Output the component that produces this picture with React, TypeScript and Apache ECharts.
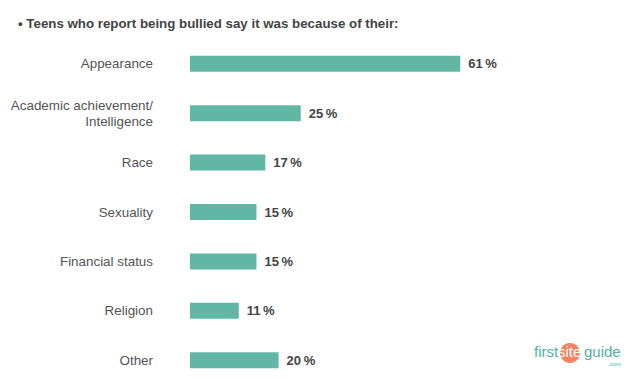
import React, { useEffect, useRef } from "react";
import * as echarts from "echarts";

const titleText = "• Teens who report being bullied say it was because of their:";
const categories = [
  "Appearance",
  "Academic achievement/\nIntelligence",
  "Race",
  "Sexuality",
  "Financial status",
  "Religion",
  "Other",
];
const values = [61, 25, 17, 15, 15, 11, 20];

export default function App() {
  const ref = useRef<HTMLDivElement>(null);
  useEffect(() => {
    if (!ref.current) return;
    const chart = echarts.init(ref.current, null, { renderer: "svg" });
    chart.setOption({
      animation: false,
      backgroundColor: "#ffffff",
      title: {
        text: titleText,
        left: 13,
        top: 12,
        textStyle: {
          fontFamily: "Liberation Sans, Arial, sans-serif",
          fontSize: 13.3,
          fontWeight: "bold",
          color: "#444444",
        },
      },
      grid: { left: 190, right: 7, top: 39, bottom: 4, containLabel: false },
      xAxis: {
        type: "value",
        min: 0,
        max: 100,
        show: false,
      },
      yAxis: {
        type: "category",
        inverse: true,
        data: categories,
        axisLine: { show: false },
        axisTick: { show: false },
        axisLabel: {
          margin: 37,
          fontFamily: "Liberation Sans, Arial, sans-serif",
          fontSize: 13.4,
          color: "#555555",
          lineHeight: 16,
          align: "right",
        },
      },
      series: [
        {
          type: "bar",
          data: values,
          barWidth: 16,
          itemStyle: { color: "#62b7a4" },
          label: {
            show: true,
            position: "right",
            distance: 8,
            formatter: "{c}\u2009%",
            fontFamily: "Liberation Sans, Arial, sans-serif",
            fontSize: 13,
            fontWeight: "bold",
            color: "#444444",
          },
        },
      ],
      graphic: [
        {
          type: "circle",
          shape: { cx: 570, cy: 353, r: 10 },
          style: { fill: "#f58462" },
        },
        {
          type: "text",
          x: 534,
          y: 344,
          style: {
            text: "first",
            fontFamily: "Liberation Sans, Arial, sans-serif",
            fontSize: 15,
            fill: "#4fb3a0",
          },
        },
        {
          type: "text",
          x: 558,
          y: 344,
          style: {
            text: "site",
            fontFamily: "Liberation Sans, Arial, sans-serif",
            fontSize: 15,
            fill: "#ffffff",
          },
        },
        {
          type: "text",
          x: 584,
          y: 344,
          style: {
            text: "guide",
            fontFamily: "Liberation Sans, Arial, sans-serif",
            fontSize: 15,
            fill: "#4fb3a0",
          },
        },
        {
          type: "text",
          x: 608,
          y: 361,
          style: {
            text: ".com",
            fontFamily: "Liberation Sans, Arial, sans-serif",
            fontSize: 6,
            fill: "#4fb3a0",
          },
        },
      ],
    });
    return () => chart.dispose();
  }, []);
  return (
    <div
      ref={ref}
      style={{ position: "fixed", left: 0, top: 0, width: 640, height: 389 }}
    />
  );
}
